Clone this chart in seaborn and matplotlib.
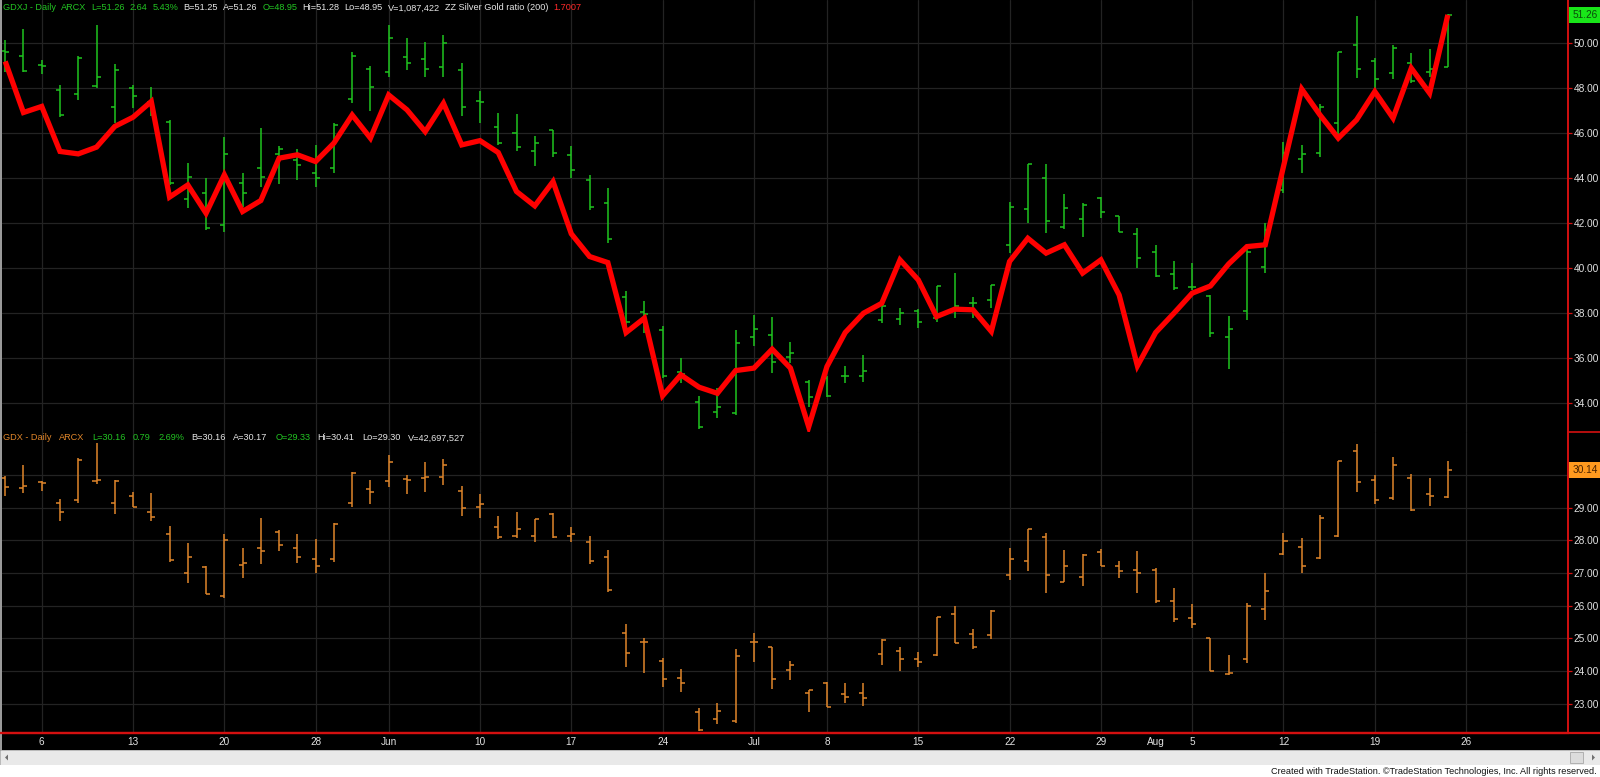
import numpy as np
import pandas as pd
import matplotlib
matplotlib.use("Agg")
import matplotlib.pyplot as plt
import matplotlib.transforms as mtransforms
from matplotlib.patches import Rectangle, Polygon
from matplotlib.lines import Line2D
import seaborn as sns

# ---------------- data ----------------
dates = (["May %d" % d for d in [2, 3, 6, 7, 8, 9, 10, 13, 14, 15, 16, 17, 20, 21, 22, 23, 24, 28, 29, 30, 31]]
         + ["Jun %d" % d for d in [3, 4, 5, 6, 7, 10, 11, 12, 13, 14, 17, 18, 19, 20, 21, 24, 25, 26, 27, 28]]
         + ["Jul %d" % d for d in [1, 2, 3, 5, 8, 9, 10, 11, 12, 15, 16, 17, 18, 19, 22, 23, 24, 25, 26, 29, 30, 31]]
         + ["Aug %d" % d for d in [1, 2, 5, 6, 7, 8, 9, 12, 13, 14, 15, 16, 19, 20, 21, 22, 23]])

gdxj_open = [49.67, 49.41, 49.04, 47.93, 47.73, 48.10, 47.16, 48.00, 47.40, 46.52,
             43.07, 43.33, 41.93, 43.78, 44.44, 45.08, 44.81, 44.22, 44.44, 47.50,
             48.84, 48.74, 49.38, 49.29, 48.96, 48.79, 47.45, 46.27, 46.03, 45.19,
             46.15, 45.04, 43.90, 42.89, 38.70, 38.07, 37.26, 35.40, 34.07, 33.63,
             33.56, 36.93, 37.04, 36.04, 34.96, 35.10, 35.19, 35.19, 37.70, 37.73,
             38.12, 37.78, 38.20, 38.47, 38.59, 41.04, 42.62, 44.00, 41.85, 42.18,
             43.14, 42.30, 41.51, 40.74, 39.75, 39.15, 38.77, 36.92, 38.12, 40.07,
             43.48, 44.84, 45.11, 46.44, 49.93, 49.23, 48.67, 49.14, 48.74, 48.95]
gdxj_high = [50.15, 50.64, 49.26, 48.15, 49.41, 50.79, 49.08, 48.15, 48.04, 46.59,
             44.67, 44.00, 45.85, 44.25, 46.22, 45.41, 45.29, 45.48, 46.44, 49.60,
             48.99, 50.81, 50.22, 50.04, 50.37, 49.14, 47.88, 46.92, 46.86, 45.88,
             46.15, 45.44, 44.15, 43.56, 39.00, 38.56, 37.44, 36.00, 34.30, 34.67,
             37.26, 37.93, 37.85, 36.74, 35.04, 35.19, 35.67, 36.15, 38.37, 38.22,
             38.18, 39.21, 39.78, 38.71, 39.26, 42.92, 44.64, 44.64, 43.29, 42.89,
             43.16, 42.33, 41.78, 41.04, 40.34, 40.25, 38.81, 37.88, 40.84, 42.00,
             45.63, 45.48, 47.30, 49.63, 51.21, 49.33, 49.93, 49.56, 49.73, 51.28]
gdxj_low = [48.74, 48.74, 48.64, 46.74, 47.48, 48.00, 46.44, 47.11, 46.77, 43.70,
            42.67, 41.70, 41.59, 42.74, 43.63, 43.75, 43.90, 43.60, 44.25, 47.36,
            47.00, 48.52, 48.79, 48.49, 48.49, 46.77, 46.44, 45.48, 45.19, 44.55,
            44.96, 44.00, 42.59, 41.11, 37.19, 37.11, 35.11, 34.89, 32.85, 33.33,
            33.48, 36.52, 35.33, 35.78, 33.85, 34.26, 34.89, 34.92, 37.56, 37.48,
            37.33, 37.63, 37.78, 37.78, 38.22, 40.67, 42.00, 41.56, 41.73, 41.38,
            42.22, 41.59, 40.00, 39.60, 39.04, 39.04, 36.96, 35.51, 37.70, 39.78,
            43.33, 44.25, 44.93, 45.93, 48.44, 47.93, 48.40, 48.25, 48.52, 48.95]
gdxj_close = [49.63, 48.77, 49.00, 46.79, 49.33, 48.52, 48.79, 47.66, 46.86, 43.78,
              44.04, 41.78, 45.08, 43.36, 44.07, 45.29, 44.59, 44.00, 46.37, 49.41,
              48.04, 50.25, 49.14, 48.87, 50.00, 47.16, 47.40, 45.58, 45.38, 45.56,
              45.14, 44.37, 42.74, 41.32, 37.60, 37.97, 35.21, 35.30, 32.96, 33.82,
              36.67, 37.29, 35.85, 36.22, 34.26, 34.30, 35.22, 35.45, 38.33, 38.00,
              37.63, 39.21, 38.30, 38.44, 39.26, 42.74, 44.64, 42.12, 42.67, 42.81,
              42.49, 41.63, 40.47, 39.67, 39.11, 39.15, 37.11, 37.29, 40.74, 41.70,
              45.11, 45.08, 47.16, 49.63, 48.84, 48.41, 49.78, 48.33, 48.85, 51.26]

# ZZ Silver/Gold ratio line, as drawn on the GDXJ price scale
ratio_on_price_scale = [49.19, 46.92, 47.19, 45.19, 45.08, 45.38, 46.30, 46.71, 47.41, 43.16,
                        43.70, 42.44, 44.15, 42.52, 43.01, 44.89, 45.04, 44.74, 45.56, 46.81,
                        45.78, 47.70, 47.04, 46.07, 47.33, 45.48, 45.67, 45.14, 43.41, 42.77,
                        43.85, 41.53, 40.52, 40.25, 37.14, 37.78, 34.33, 35.26, 34.71, 34.44,
                        35.45, 35.56, 36.40, 35.56, 32.95, 35.63, 37.14, 38.00, 38.44, 40.37,
                        39.48, 37.85, 38.18, 38.15, 37.19, 40.30, 41.33, 40.67, 41.04, 39.78,
                        40.37, 38.81, 35.66, 37.14, 38.00, 38.89, 39.21, 40.19, 40.96, 41.04,
                        44.52, 47.96, 46.81, 45.78, 46.59, 47.85, 46.67, 48.89, 47.78, 51.26]

gdx_open = [29.90, 29.59, 29.77, 29.13, 29.24, 29.82, 29.15, 29.36, 28.88, 28.20,
            27.01, 27.17, 26.31, 27.25, 27.76, 28.24, 27.76, 27.43, 27.43, 29.13,
            29.57, 29.80, 29.87, 29.90, 29.92, 29.52, 29.01, 28.40, 28.14, 28.13,
            28.81, 28.13, 27.96, 27.48, 25.16, 24.90, 24.32, 23.80, 22.76, 22.53,
            22.48, 24.88, 24.75, 24.04, 23.34, 23.65, 23.29, 23.32, 24.52, 24.63,
            24.36, 24.50, 25.75, 25.14, 25.11, 26.94, 27.38, 28.09, 26.74, 26.89,
            27.64, 27.22, 27.09, 27.09, 26.15, 25.62, 25.00, 23.91, 24.36, 25.89,
            27.57, 27.81, 27.45, 28.14, 30.74, 29.85, 29.29, 29.90, 29.42, 29.33]
gdx_high = [29.97, 30.31, 29.80, 29.26, 30.51, 30.97, 29.83, 29.49, 29.46, 28.45,
            27.91, 27.20, 28.19, 27.76, 28.67, 28.30, 28.19, 28.03, 28.52, 30.10,
            29.85, 30.61, 30.00, 30.38, 30.48, 29.66, 29.42, 28.73, 28.88, 28.65,
            28.83, 28.40, 28.13, 27.71, 25.44, 25.00, 24.39, 24.06, 22.86, 23.02,
            24.67, 25.18, 24.75, 24.32, 23.43, 23.68, 23.65, 23.63, 24.97, 24.73,
            24.60, 25.67, 25.99, 25.28, 25.87, 27.76, 28.34, 28.22, 27.71, 27.58,
            27.73, 27.38, 27.68, 27.15, 26.53, 26.05, 25.00, 24.50, 26.08, 26.99,
            28.22, 28.06, 28.78, 30.43, 30.95, 30.00, 30.54, 30.03, 29.90, 30.41]
gdx_low = [29.34, 29.44, 29.52, 28.59, 29.15, 29.71, 28.81, 29.03, 28.60, 27.35,
           26.69, 26.36, 26.23, 26.84, 27.28, 27.66, 27.30, 26.99, 27.35, 29.01,
           29.11, 29.64, 29.41, 29.49, 29.69, 28.73, 28.67, 28.03, 28.06, 27.94,
           28.06, 27.94, 27.28, 26.43, 24.14, 23.93, 23.51, 23.35, 22.16, 22.38,
           22.43, 24.29, 23.45, 23.73, 22.76, 22.89, 23.02, 22.92, 24.19, 24.02,
           24.14, 24.46, 24.87, 24.67, 24.97, 26.79, 27.07, 26.38, 26.71, 26.59,
           27.20, 26.84, 26.38, 26.08, 25.49, 25.31, 24.02, 23.88, 24.24, 25.55,
           27.55, 27.01, 27.43, 28.09, 29.47, 29.11, 29.24, 28.90, 29.05, 29.30]
gdx_close = [29.62, 29.67, 29.75, 28.86, 30.46, 29.85, 29.82, 29.03, 28.71, 27.40,
             27.48, 26.36, 28.01, 27.32, 27.68, 27.86, 27.48, 27.22, 28.50, 30.05,
             29.49, 30.38, 29.85, 29.92, 30.31, 28.98, 29.10, 28.11, 28.34, 28.64,
             28.11, 28.19, 27.38, 26.48, 24.57, 24.90, 23.75, 23.63, 22.20, 22.79,
             24.46, 24.88, 23.75, 24.19, 23.43, 22.89, 23.22, 23.19, 24.95, 24.36,
             24.29, 25.65, 24.87, 24.75, 25.85, 27.43, 28.34, 26.94, 27.20, 27.55,
             27.22, 27.06, 26.99, 26.15, 25.59, 25.43, 24.02, 23.94, 26.00, 26.46,
             27.99, 27.20, 28.67, 30.41, 29.78, 29.22, 30.31, 28.93, 29.36, 30.16]

week_labels = ["6", "13", "20", "28", "Jun", "10", "17", "24", "Jul", "8",
               "15", "22", "29", "Aug", "5", "12", "19", "26"]
week_label_dates = ["May 6", "May 13", "May 20", "May 28", "Jun 3", "Jun 10", "Jun 17",
                    "Jun 24", "Jul 1", "Jul 8", "Jul 15", "Jul 22", "Jul 29", "Aug 1",
                    "Aug 5", "Aug 12", "Aug 19", "Aug 26"]
month_start_dates = ["Jun 3", "Jul 1", "Aug 1"]

gdxj_ticks = [34, 36, 38, 40, 42, 44, 46, 48, 50]
gdx_ticks = [23, 24, 25, 26, 27, 28, 29, 30]
gdxj_last, gdx_last = 51.26, 30.14

# ---------------- helpers ----------------
df = pd.DataFrame({"date": dates, "ratio": ratio_on_price_scale})
df["pos"] = np.arange(len(df))
extended = dates + ["Aug 26"]
pos_of = {d: i for i, d in enumerate(extended)}
tick_pos = [pos_of[d] for d in week_label_dates]
grid_pos = [pos_of[d] for d, l in zip(week_label_dates, week_labels) if l != "Aug"]
month_pos = [pos_of[d] for d in month_start_dates]

sns.set_theme(style="dark")
plt.rcParams["font.family"] = ["Liberation Sans", "DejaVu Sans"]

W, H = 1600, 777
fig = plt.figure(figsize=(W / 100, H / 100), dpi=100, facecolor="black")


def fx(px):
    return px / W


def fy(py):
    return 1 - py / H


TOP_B = 432   # pixel row of the panel divider
BOT_B = 733   # pixel row of the bottom red axis line
XL = (-0.175, 85.58)
YL1 = (32.72, 51.92)
YL2 = (22.11, 31.31)

ax1 = fig.add_axes([fx(2), fy(TOP_B), fx(1566), TOP_B / H])
ax2 = fig.add_axes([fx(2), fy(BOT_B), fx(1566), (BOT_B - TOP_B) / H])

GREEN = "#1fc41f"
ORANGE = "#e0862a"
GRID = "#232323"
LABEL = "#e2e2e2"
RED_AX = "#d41010"

for ax in (ax1, ax2):
    ax.set_facecolor("black")
    for s in ("top", "left", "bottom"):
        ax.spines[s].set_visible(False)
    ax.spines["right"].set_color(RED_AX)
    ax.spines["right"].set_linewidth(1.2)
    ax.yaxis.tick_right()
    ax.tick_params(axis="y", which="both", color=RED_AX, labelcolor=LABEL,
                   length=3, width=0.9, labelsize=7.3, pad=1.2, direction="out")
    ax.grid(False)
    for p in grid_pos:
        ax.axvline(p, color=GRID, lw=0.9, zorder=0)

ax1.set_yticks(gdxj_ticks)
ax1.set_yticklabels(["%.2f" % v for v in gdxj_ticks])
ax2.set_yticks(gdx_ticks)
ax2.set_yticklabels(["%.2f" % v if v != 30 else "" for v in gdx_ticks])
for v in gdxj_ticks:
    ax1.axhline(v, color=GRID, lw=0.9, zorder=0)
for v in gdx_ticks:
    ax2.axhline(v, color=GRID, lw=0.9, zorder=0)

ax1.set_xticks([])
ax2.spines["bottom"].set_visible(True)
ax2.spines["bottom"].set_color(RED_AX)
ax2.spines["bottom"].set_linewidth(1.6)
ax2.set_xticks(tick_pos)
ax2.set_xticklabels(week_labels)
ax2.tick_params(axis="x", color=RED_AX, labelcolor=LABEL, length=3, width=0.9,
                direction="in", labelsize=7.2, pad=3)
ax2.set_xticks(month_pos, minor=True)
ax2.tick_params(axis="x", which="minor", color=RED_AX, length=5, width=0.9, direction="out")


def ohlc(ax, o, h, l, c, color):
    x = np.arange(len(o))
    w = 0.22
    ax.vlines(x, l, h, color=color, lw=1.1, zorder=3)
    ax.hlines(o, x - w, x, color=color, lw=1.1, zorder=3)
    ax.hlines(c, x, x + w, color=color, lw=1.1, zorder=3)


ohlc(ax1, gdxj_open, gdxj_high, gdxj_low, gdxj_close, GREEN)
ohlc(ax2, gdx_open, gdx_high, gdx_low, gdx_close, ORANGE)

sns.lineplot(data=df, x="pos", y="ratio", ax=ax1, color="#ff0000", lw=3.8,
             zorder=4, legend=False, solid_joinstyle="miter", solid_capstyle="butt")

for ax, yl in ((ax1, YL1), (ax2, YL2)):
    ax.set_xlabel("")
    ax.set_ylabel("")
    ax.set_xlim(*XL)
    ax.set_ylim(*yl)

# last-price boxes on the right scale
for ax, val, fc, tc in ((ax1, gdxj_last, "#19e619", "#0a4a0a"), (ax2, gdx_last, "#ff9a1f", "#4a2200")):
    trans = mtransforms.blended_transform_factory(ax.transAxes, ax.transData)
    ax.annotate("%.2f" % val, xy=(1.0, val), xycoords=trans, xytext=(3.2, 0),
                textcoords="offset points", ha="left", va="center",
                fontsize=7.3, color=tc, annotation_clip=False, zorder=10,
                bbox=dict(boxstyle="square,pad=0.3", fc=fc, ec="none"))

# red separator in the scale area and bottom red line
fig.add_artist(Line2D([fx(1568), 1], [fy(TOP_B), fy(TOP_B)], color=RED_AX, lw=1.2))
fig.add_artist(Line2D([0, 1], [fy(BOT_B), fy(BOT_B)], color=RED_AX, lw=1.6))
fig.add_artist(Line2D([fx(1568), fx(1568)], [fy(BOT_B), 1], color=RED_AX, lw=1.2))

# header texts (common baseline for every segment)
renderer = fig.canvas.get_renderer()


def header(y_base, segments, size=6.6, gap=5.0):
    x = 3
    for txt, col in segments:
        t = fig.text(fx(x), fy(y_base), txt, color=col, fontsize=size, ha="left", va="baseline")
        bb = t.get_window_extent(renderer=renderer)
        x += bb.width + gap


WH = "#e6e6e6"
G2 = "#22c422"
header(10.5, [("GDXJ - Daily", G2), ("ARCX", G2), ("L=51.26", G2), ("2.64", G2), ("5.43%", G2),
              ("B=51.25", WH), ("A=51.26", WH), ("O=48.95", G2), ("Hi=51.28", WH), ("Lo=48.95", WH),
              ("V=1,087,422", WH), ("ZZ Silver Gold ratio (200)", WH), ("1.7007", "#ff2a2a")],
       gap=5.0)
header(440.5, [("GDX - Daily", ORANGE), ("ARCX", ORANGE), ("L=30.16", G2), ("0.79", G2), ("2.69%", G2),
               ("B=30.16", WH), ("A=30.17", WH), ("O=29.33", G2), ("Hi=30.41", WH), ("Lo=29.30", WH),
               ("V=42,697,527", WH)], gap=7.5)

# window chrome: left border, scrollbar, footer
fig.add_artist(Rectangle((0, fy(750)), fx(2), 1 - fy(750), transform=fig.transFigure,
                         fc="#9a9a9a", ec="none"))
fig.add_artist(Rectangle((0, fy(765)), 1, (765 - 750) / H, transform=fig.transFigure,
                         fc="#e9e9e9", ec="#c8c8c8", lw=0.6))
fig.add_artist(Rectangle((0, 0), 1, fy(765), transform=fig.transFigure, fc="white", ec="none"))
fig.add_artist(Polygon([[fx(5), fy(757.5)], [fx(8), fy(754.5)], [fx(8), fy(760.5)]],
                       closed=True, transform=fig.transFigure, fc="#707070", ec="none"))
fig.add_artist(Rectangle((fx(1570), fy(763)), fx(13), 11 / H, transform=fig.transFigure,
                         fc="#dcdcdc", ec="#a8a8a8", lw=0.6))
fig.add_artist(Polygon([[fx(1595), fy(757.5)], [fx(1592), fy(754.5)], [fx(1592), fy(760.5)]],
                       closed=True, transform=fig.transFigure, fc="#707070", ec="none"))
fig.text(fx(1597), fy(771), "Created with TradeStation. \u00a9TradeStation Technologies, Inc. All rights reserved.",
         ha="right", va="center", color="#111111", fontsize=6.6)

fig.savefig("out.png", dpi=100, facecolor="black")
